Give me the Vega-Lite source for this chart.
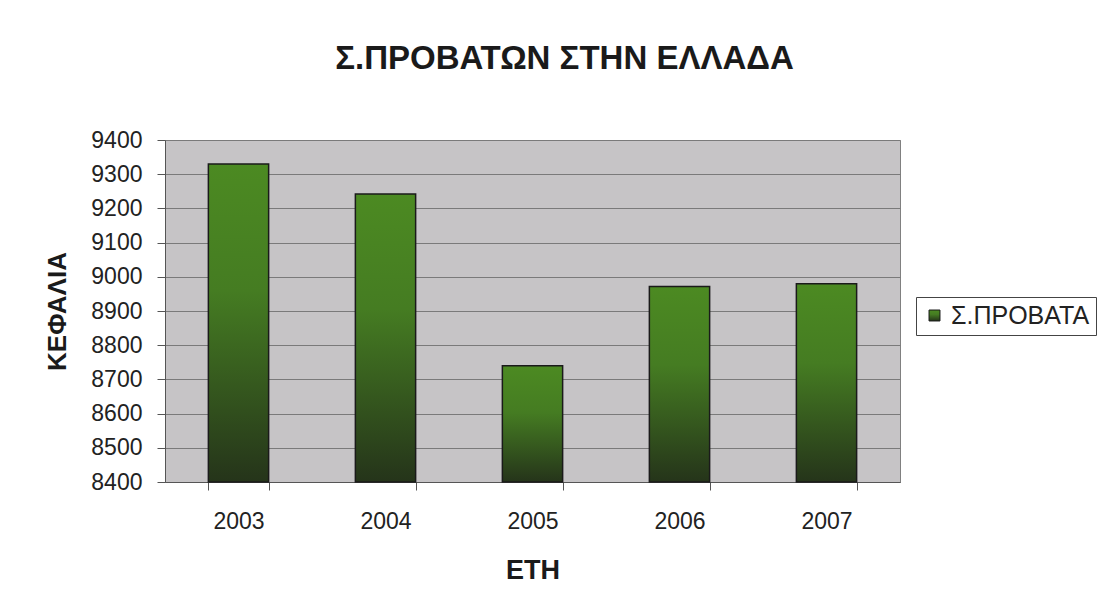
{
  "$schema": "https://vega.github.io/schema/vega-lite/v6.json",
  "width": 735,
  "height": 342,
  "autosize": {"type": "none"},
  "padding": {"left": 165, "top": 140, "right": 206, "bottom": 129},
  "background": "white",
  "title": {
    "text": "Σ.ΠΡΟΒΑΤΩΝ ΣΤΗΝ ΕΛΛΑΔΑ",
    "font": "Liberation Sans",
    "fontSize": 33,
    "fontWeight": "bold",
    "color": "#1a1a1a",
    "anchor": "middle",
    "frame": "group",
    "dx": 32,
    "offset": 53
  },
  "data": {
    "values": [
      {"year": "2003", "value": 9330, "series": "Σ.ΠΡΟΒΑΤΑ"},
      {"year": "2004", "value": 9242, "series": "Σ.ΠΡΟΒΑΤΑ"},
      {"year": "2005", "value": 8740, "series": "Σ.ΠΡΟΒΑΤΑ"},
      {"year": "2006", "value": 8972, "series": "Σ.ΠΡΟΒΑΤΑ"},
      {"year": "2007", "value": 8980, "series": "Σ.ΠΡΟΒΑΤΑ"}
    ]
  },
  "mark": {
    "type": "bar",
    "strokeWidth": 1.5,
    "fill": {
      "gradient": "linear",
      "x1": 0, "y1": 0, "x2": 0, "y2": 1,
      "stops": [
        {"offset": 0, "color": "#4c8a22"},
        {"offset": 0.4, "color": "#457c22"},
        {"offset": 1, "color": "#25341a"}
      ]
    }
  },
  "encoding": {
    "x": {
      "field": "year",
      "type": "ordinal",
      "scale": {"paddingInner": 0.59, "paddingOuter": 0.295},
      "axis": {
        "title": "ΕΤΗ",
        "labelAngle": 0,
        "labelFont": "Liberation Sans",
        "labelFontSize": 23,
        "labelColor": "#222222",
        "labelPadding": 20,
        "tickBand": "extent",
        "tickSize": 8,
        "tickColor": "#555555",
        "domainColor": "#555555",
        "titleFont": "Liberation Sans",
        "titleFontSize": 27,
        "titleFontWeight": "bold",
        "titleColor": "#1a1a1a",
        "titlePadding": 24
      }
    },
    "y": {
      "field": "value",
      "type": "quantitative",
      "scale": {"domain": [8400, 9400], "zero": false, "nice": false},
      "axis": {
        "title": "ΚΕΦΑΛΙΑ",
        "values": [8400, 8500, 8600, 8700, 8800, 8900, 9000, 9100, 9200, 9300, 9400],
        "format": "d",
        "labelFont": "Liberation Sans",
        "labelFontSize": 23,
        "labelColor": "#222222",
        "labelPadding": 15,
        "tickSize": 8,
        "tickColor": "#555555",
        "domainColor": "#555555",
        "grid": true,
        "gridColor": "#7a7a7a",
        "gridWidth": 1,
        "titleFont": "Liberation Sans",
        "titleFontSize": 26,
        "titleFontWeight": "bold",
        "titleColor": "#1a1a1a",
        "titlePadding": 20
      }
    },
    "y2": {"datum": 8400},
    "stroke": {
      "field": "series",
      "type": "nominal",
      "scale": {"range": ["#1a1a1a"]},
      "legend": {
        "title": null,
        "orient": "none",
        "legendX": 751,
        "legendY": 157,
        "symbolType": "square",
        "symbolSize": 120,
        "symbolFillColor": "#2f4a1f",
        "symbolStrokeWidth": 1,
        "labelFont": "Liberation Sans",
        "labelFontSize": 25,
        "labelColor": "#222222",
        "strokeColor": "#444444",
        "padding": 6,
        "fillColor": "white"
      }
    }
  },
  "config": {
    "view": {"fill": "#c6c4c6", "stroke": "#808080"}
  }
}
